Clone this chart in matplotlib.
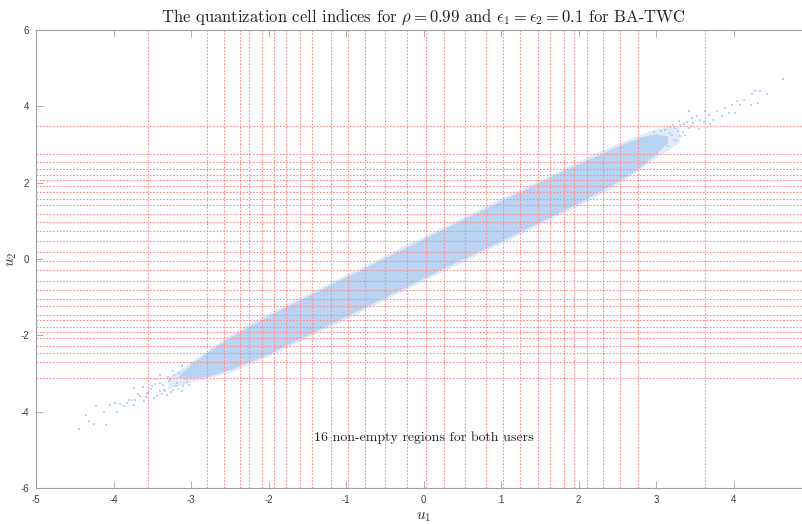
import numpy as np
import matplotlib.pyplot as plt

plt.rcParams['mathtext.fontset'] = 'cm'
plt.rcParams['axes.unicode_minus'] = False

# quantizer thresholds
u1_thresholds = [-3.56, -2.80, -2.57, -2.37, -2.25, -2.09, -1.93, -1.77, -1.60, -1.44,
                 -1.19, -0.97, -0.75, -0.50, -0.21, 0.03, 0.27, 0.54, 0.80, 1.02,
                 1.24, 1.48, 1.63, 1.81, 1.94, 2.11, 2.31, 2.53, 2.77, 3.63]
u2_thresholds = [3.49, 2.76, 2.54, 2.36, 2.21, 2.07, 1.91, 1.76, 1.57, 1.42,
                 1.17, 0.96, 0.73, 0.47, 0.18, -0.05, -0.29, -0.57, -0.81, -1.05,
                 -1.23, -1.47, -1.61, -1.77, -1.90, -2.07, -2.28, -2.47, -2.71, -3.13]

# dense part of the sample cloud (outline)
band_x = [-3.15, -3.0, -2.8, -2.5, -2.0, -1.5, -1.0, -0.5, 0.0, 0.5, 1.0, 1.5, 2.0, 2.5, 2.8, 3.0, 3.15]
band_upper = [-3.02, -2.76, -2.45, -2.05, -1.48, -0.97, -0.47, 0.03, 0.53, 1.03, 1.52, 2.02, 2.50, 2.95, 3.20, 3.28, 3.22]
band_lower = [-3.10, -3.12, -3.08, -2.90, -2.48, -1.99, -1.50, -1.00, -0.50, 0.00, 0.48, 0.98, 1.47, 2.02, 2.42, 2.76, 3.05]

# softer fringe around the dense part
fringe_x = [-3.3, -3.0, -2.5, -2.0, -1.0, 0.0, 1.0, 2.0, 2.5, 3.0, 3.3]
fringe_upper = [-3.10, -2.68, -1.98, -1.41, -0.40, 0.60, 1.59, 2.57, 3.03, 3.42, 3.50]
fringe_lower = [-3.40, -3.22, -2.97, -2.55, -1.57, -0.57, 0.41, 1.40, 1.94, 2.66, 3.05]

# sparse samples at both ends of the cloud
tail_u1 = [-4.44, -4.35, -4.31, -4.25, -4.23, -4.12, -4.10, -4.04, -3.98, -3.95,
           -3.83, -3.87, -3.76, -3.74, -3.66, -3.61, -3.55, -3.48, -3.40, -3.31,
           -3.23, -3.12, -3.74, -3.72, -3.57, -3.50, -3.44, -3.40, -3.35, -3.27,
           -3.23, -3.20, -3.14, -3.12, -3.05, -3.01, -2.99, -2.92, -2.88, -3.40,
           -3.30, -3.18, -3.08, -3.02, -2.95, -3.33, -3.15, -3.62, -3.52, -3.46,
           -3.38, -3.28, -3.22, -3.10, -3.06, -2.97, -3.58, -3.68, -3.80, -3.92,
           -3.45, -3.36, -3.26, -3.17, -3.09,
           4.64, 4.43, 4.34, 4.28, 4.24, 4.32, 4.22, 4.13, 4.09, 4.04,
           3.98, 4.02, 3.94, 3.89, 3.85, 3.79, 3.74, 3.68, 3.63, 3.57,
           3.53, 3.48, 3.42, 3.40, 3.42, 3.35, 3.31, 3.31, 3.25, 3.23,
           3.18, 3.14, 3.12, 3.08, 3.03, 3.01, 2.97, 2.95, 2.88, 2.84,
           3.10, 3.20, 2.99, 3.05, 3.28, 3.15, 2.92, 3.36, 3.45, 3.55,
           3.62, 3.70, 3.22, 3.30, 3.12, 3.38, 3.47, 3.26, 3.18, 3.06]
tail_u2 = [-4.45, -4.08, -4.24, -4.33, -3.86, -4.02, -4.36, -3.82, -3.77, -4.02,
           -3.77, -3.86, -3.69, -3.82, -3.60, -3.73, -3.51, -3.64, -3.47, -3.56,
           -3.42, -3.47, -3.38, -3.69, -3.51, -3.34, -3.60, -3.25, -3.42, -3.16,
           -2.94, -3.34, -3.08, -2.81, -3.21, -2.90, -2.72, -3.08, -2.64, -3.03,
           -3.10, -3.25, -2.95, -3.30, -2.80, -3.45, -2.98, -3.35, -3.40, -3.28,
           -3.55, -3.20, -3.05, -3.33, -3.15, -2.86, -3.62, -3.55, -3.70, -3.80,
           -3.15, -3.30, -3.48, -3.40, -3.00,
           4.72, 4.33, 4.39, 4.39, 4.33, 4.09, 4.04, 4.17, 4.04, 4.13,
           4.04, 3.83, 3.83, 3.96, 3.74, 3.87, 3.65, 3.78, 3.87, 3.65,
           3.74, 3.56, 3.87, 3.60, 3.43, 3.34, 3.52, 3.21, 3.43, 3.13,
           3.30, 3.04, 3.39, 3.17, 2.99, 3.26, 3.34, 2.86, 3.17, 2.78,
           3.05, 3.25, 3.10, 2.92, 3.35, 2.95, 3.05, 3.55, 3.48, 3.40,
           3.58, 3.55, 3.50, 3.62, 3.20, 3.25, 3.70, 3.08, 3.45, 3.35]

cloud_color = '#b9d3f3'
line_color = '#ff8a8a'

fig = plt.figure(figsize=(8.02, 5.24), dpi=100)
ax = fig.add_axes([36 / 802, 36 / 524, 775 / 802, 458 / 524])

ax.fill_between(fringe_x, fringe_lower, fringe_upper, color=cloud_color, alpha=0.45, lw=0, zorder=1)
ax.fill_between(band_x, band_lower, band_upper, color=cloud_color, lw=0, zorder=1)
ax.scatter(tail_u1, tail_u2, s=2.5, marker='s', color=cloud_color, lw=0, zorder=1)

for t in u1_thresholds:
    ax.axvline(t, color=line_color, lw=0.8, ls=(0, (1.5, 1.5)), zorder=2)
for t in u2_thresholds:
    ax.axhline(t, color=line_color, lw=0.8, ls=(0, (1.5, 1.5)), zorder=2)

ax.set_xlim(-5, 5)
ax.set_ylim(-6, 6)
ax.set_xticks(np.arange(-5, 5, 1))
ax.set_yticks(np.arange(-6, 7, 2))
ax.tick_params(direction='in', length=5, width=0.6, colors='#a0a0a0',
               labelcolor='#404040', labelsize=7, top=True, right=True, pad=5)
for lab in ax.get_xticklabels() + ax.get_yticklabels():
    lab.set_family('Liberation Sans')
for s in ax.spines.values():
    s.set_color('#a0a0a0')
    s.set_linewidth(0.8)

ax.set_title(r'The quantization cell indices for $\rho = 0.99$ and '
             r'$\epsilon_1 = \epsilon_2 = 0.1$ for BA-TWC',
             family='cmr10', fontsize=12, color='#222222', pad=6)
ax.set_xlabel(r'$u_1$', fontsize=11, color='#333333', labelpad=3)
ax.set_ylabel(r'$u_2$', fontsize=11, color='#333333', labelpad=1)
ax.text(0.0, -4.67, '16 non-empty regions for both users', family='cmr10',
        fontsize=10, color='#222222', ha='center', va='center')

fig.savefig('out.png', dpi=100)
